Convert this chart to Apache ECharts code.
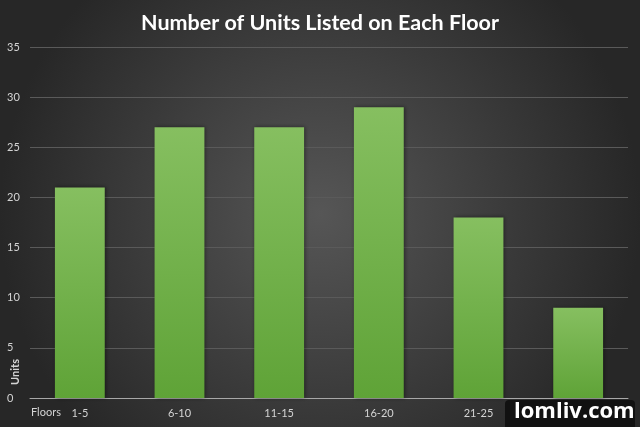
<!DOCTYPE html>
<html>
<head>
<meta charset="utf-8">
<script src="https://cdn.jsdelivr.net/npm/echarts@6/dist/echarts.min.js"></script>
<style>html,body{margin:0;padding:0;background:#333;}#c{width:640px;height:427px;}</style>
</head>
<body>
<div id="c"></div>
<script>
var categories = ['1-5', '6-10', '11-15', '16-20', '21-25', '26-30'];
var units = [21, 27, 27, 29, 18, 9];
var yTicks = [0, 5, 10, 15, 20, 25, 30, 35];

var chart = echarts.init(document.getElementById('c'));
var labelColor = '#d4d4d4';
chart.setOption({
  animation: false,
  backgroundColor: {
    type: 'radial', x: 0.5, y: 0.5, r: 0.75,
    colorStops: [{offset: 0, color: '#565656'}, {offset: 1, color: '#272727'}]
  },
  title: {
    text: 'Number of Units Listed on Each Floor',
    left: 'center', top: 7,
    textStyle: {color: '#ffffff', fontFamily: 'Lato', fontWeight: 'bold', fontSize: 21.5}
  },
  grid: {left: 30, right: 12, top: 47, bottom: 29},
  xAxis: {
    type: 'category', data: categories,
    axisLine: {lineStyle: {color: '#a8a8a8', width: 1}},
    axisTick: {show: false},
    axisLabel: {color: labelColor, fontFamily: 'Lato', fontSize: 11, margin: 10}
  },
  yAxis: {
    type: 'value', min: yTicks[0], max: yTicks[yTicks.length - 1], interval: 5,
    axisLine: {show: false}, axisTick: {show: false},
    splitLine: {lineStyle: {color: '#5a5a5a', width: 1}},
    axisLabel: {color: labelColor, fontFamily: 'Lato', fontSize: 11, align: 'left', margin: 23}
  },
  series: [{
    type: 'bar', data: units, barWidth: '50%',
    itemStyle: {
      color: {type: 'linear', x: 0, y: 0, x2: 0, y2: 1,
        colorStops: [{offset: 0, color: '#86bf60'}, {offset: 1, color: '#5fa337'}]},
      shadowColor: 'rgba(0,0,0,0.45)', shadowBlur: 4, shadowOffsetX: 1, shadowOffsetY: 0
    }
  }],
  graphic: [
    {type: 'text', left: 10, top: 359, rotation: Math.PI / 2,
     style: {text: 'Units', fill: labelColor, font: 'bold 11px Lato'}},
    {type: 'text', left: 31, top: 407,
     style: {text: 'Floors', fill: labelColor, font: '11px Lato'}},
    {type: 'group', z: 1000, zlevel: 1, children: [
      {type: 'rect', left: 505, top: 400, z: 1000, shape: {width: 130, height: 30, r: 4},
       style: {fill: '#111111'}},
      {type: 'text', left: 514, top: 401, z: 1001,
       style: {text: 'lomliv.com', fill: '#ffffff', font: 'bold 22px "Open Sans"'}}
    ]}
  ]
});
</script>
</body>
</html>
